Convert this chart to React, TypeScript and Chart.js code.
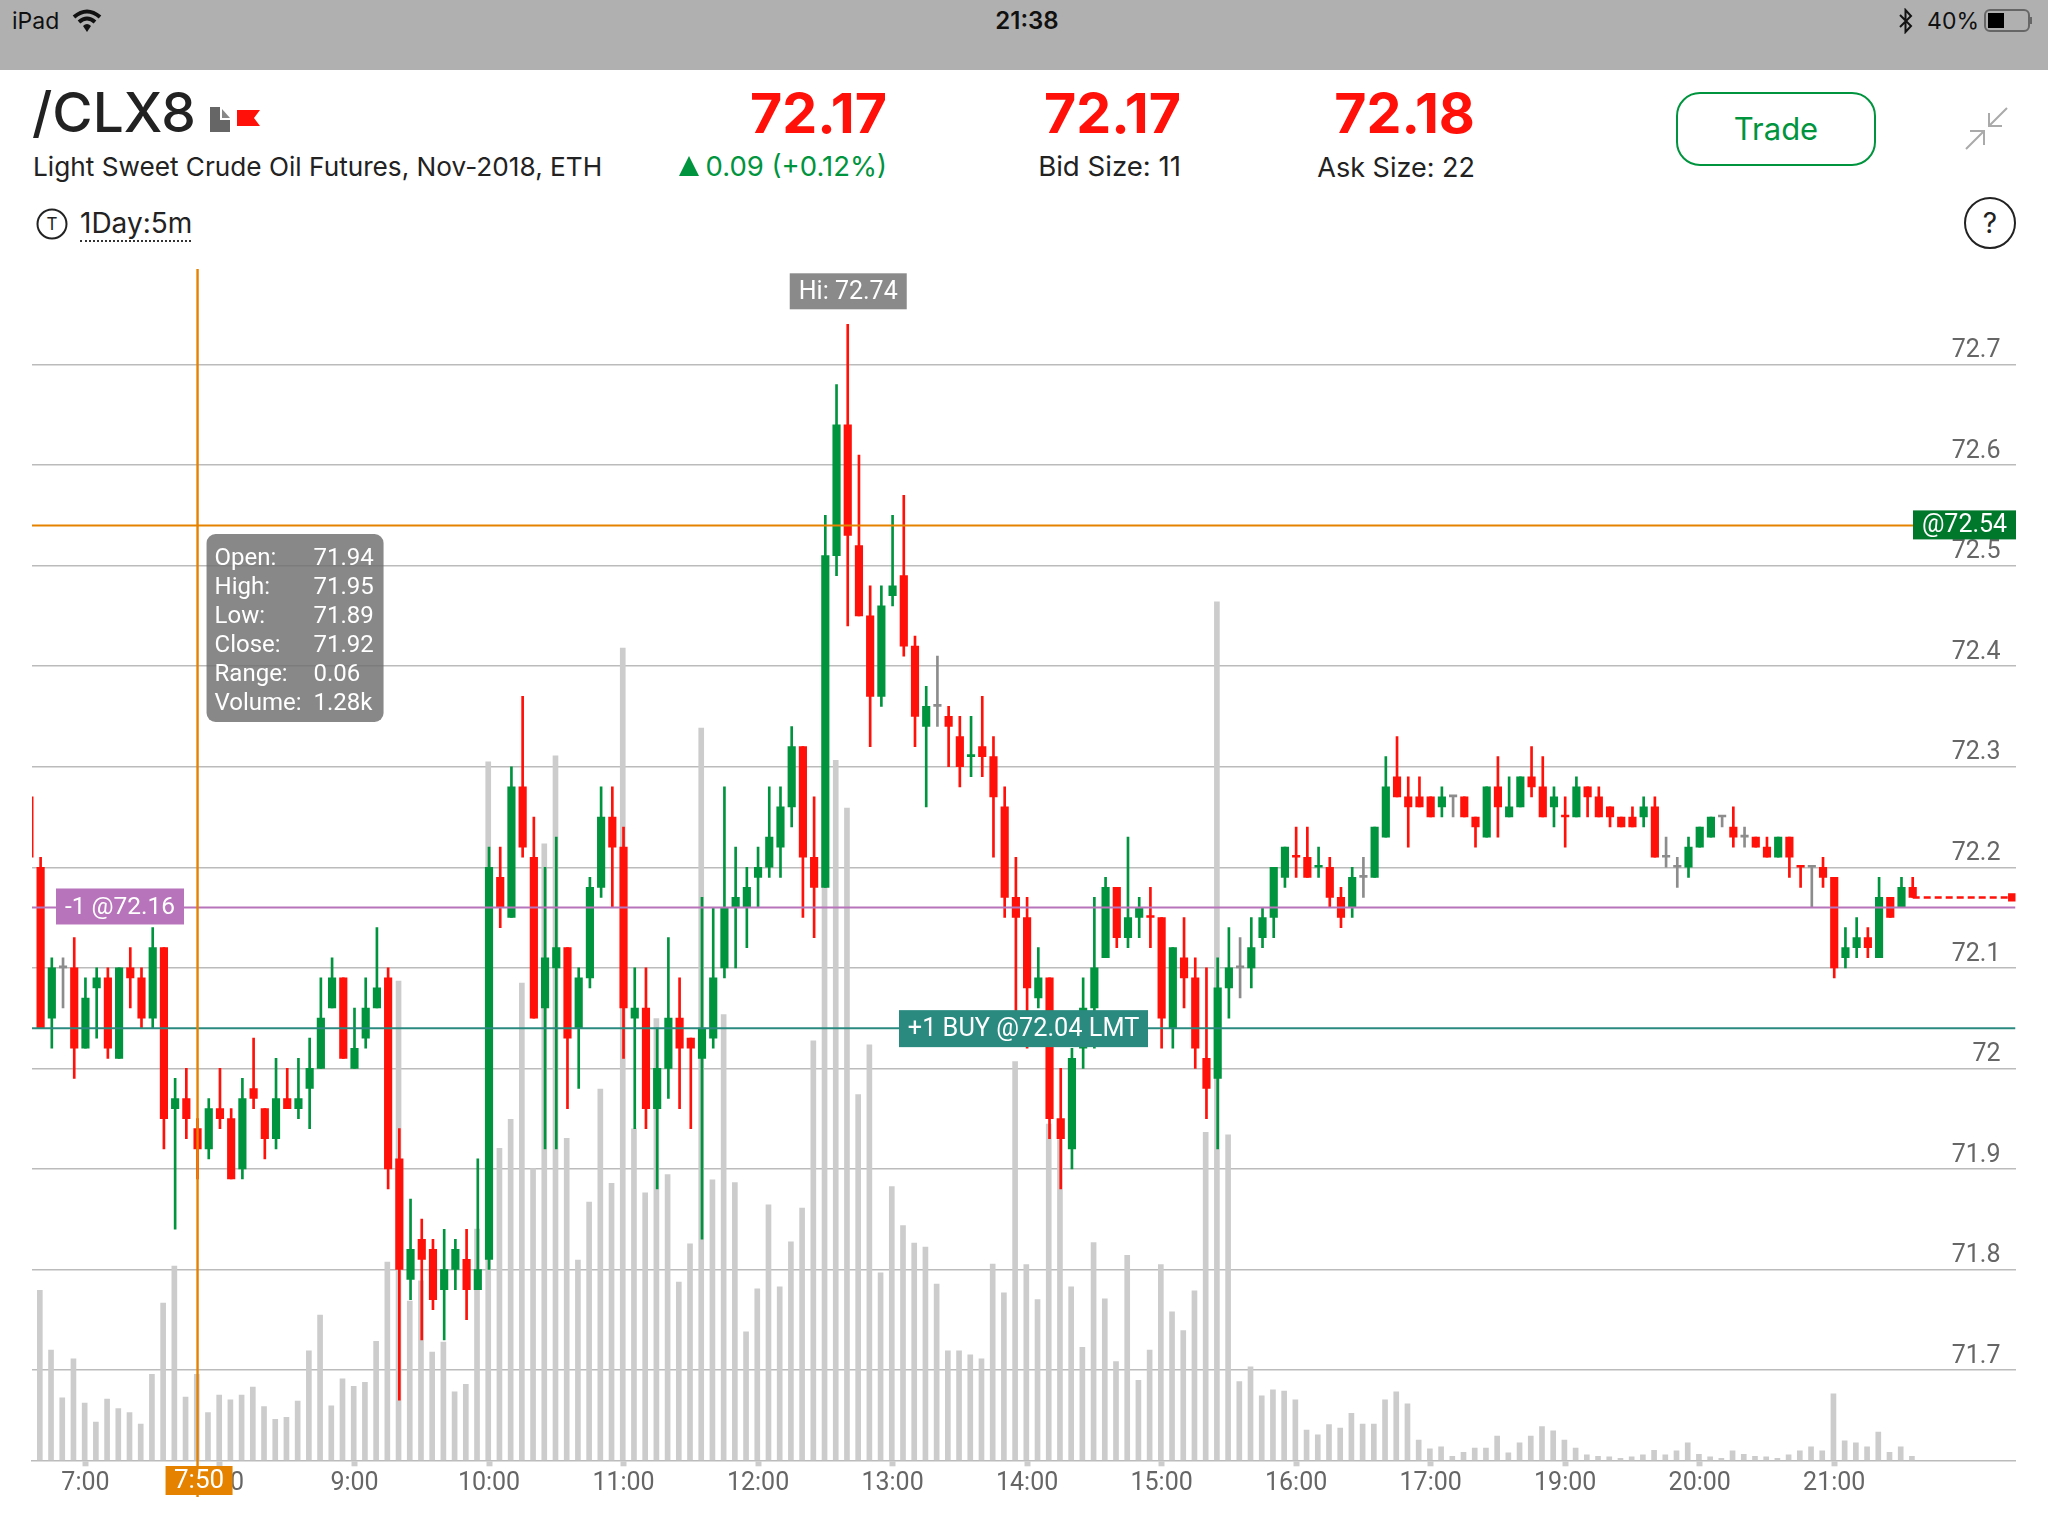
import React, { useEffect, useRef } from "react";
import { Chart, registerables } from "chart.js";

Chart.register(...registerables);

const openP = [72.27,72.20,72.05,72.10,72.10,72.02,72.08,72.09,72.01,72.10,72.09,72.05,72.12,71.96,71.97,71.94,71.92,71.96,71.95,71.90,71.98,71.96,71.93,71.97,71.96,71.98,72.00,72.06,72.09,72.00,72.03,72.06,72.09,71.91,71.79,71.83,71.82,71.78,71.80,71.81,71.78,71.81,72.19,72.15,72.28,72.21,72.06,72.10,72.12,72.04,72.09,72.18,72.25,72.22,72.05,72.06,71.96,72.00,72.05,72.03,72.01,72.03,72.10,72.16,72.16,72.19,72.20,72.22,72.26,72.32,72.21,72.18,72.51,72.64,72.52,72.45,72.37,72.47,72.49,72.42,72.34,72.36,72.35,72.33,72.31,72.32,72.31,72.26,72.17,72.15,72.07,72.09,71.95,71.92,72.02,72.06,72.11,72.18,72.13,72.15,72.15,72.15,72.04,72.11,72.09,72.01,71.99,72.08,72.10,72.10,72.13,72.15,72.19,72.21,72.21,72.20,72.20,72.17,72.16,72.19,72.19,72.23,72.29,72.27,72.27,72.27,72.26,72.27,72.27,72.25,72.23,72.28,72.25,72.26,72.29,72.28,72.26,72.25,72.25,72.28,72.27,72.26,72.25,72.25,72.25,72.26,72.21,72.20,72.20,72.22,72.23,72.25,72.24,72.23,72.23,72.22,72.21,72.23,72.20,72.20,72.20,72.19,72.11,72.12,72.13,72.11,72.17,72.16,72.18];
const highP = [72.27,72.21,72.11,72.11,72.13,72.09,72.10,72.10,72.10,72.12,72.10,72.14,72.12,71.99,72.00,71.95,71.97,72.00,71.96,71.99,72.03,71.96,72.01,72.00,72.01,72.03,72.09,72.11,72.09,72.06,72.09,72.14,72.10,71.94,71.87,71.85,71.83,71.84,71.83,71.84,71.91,72.22,72.22,72.30,72.37,72.25,72.20,72.23,72.12,72.10,72.19,72.28,72.28,72.24,72.10,72.10,72.04,72.13,72.09,72.03,72.17,72.16,72.28,72.22,72.20,72.22,72.28,72.28,72.34,72.32,72.27,72.55,72.68,72.74,72.61,72.48,72.48,72.55,72.57,72.43,72.38,72.41,72.36,72.35,72.35,72.37,72.33,72.28,72.21,72.17,72.12,72.09,72.00,72.02,72.09,72.17,72.19,72.18,72.23,72.17,72.18,72.15,72.12,72.15,72.11,72.10,72.11,72.14,72.13,72.15,72.16,72.20,72.22,72.24,72.24,72.22,72.21,72.18,72.20,72.21,72.24,72.31,72.33,72.29,72.29,72.27,72.28,72.27,72.27,72.25,72.28,72.31,72.29,72.29,72.32,72.31,72.28,72.27,72.29,72.28,72.28,72.26,72.25,72.26,72.27,72.27,72.23,72.21,72.23,72.24,72.25,72.25,72.26,72.24,72.23,72.23,72.23,72.23,72.20,72.20,72.21,72.19,72.14,72.15,72.14,72.19,72.17,72.19,72.19];
const lowP = [72.21,72.04,72.02,72.06,71.99,72.02,72.03,72.01,72.01,72.06,72.04,72.04,71.92,71.84,71.93,71.89,71.91,71.94,71.89,71.89,71.96,71.91,71.92,71.96,71.95,71.94,72.00,72.06,72.01,72.00,72.02,72.06,71.88,71.67,71.77,71.73,71.76,71.73,71.78,71.75,71.78,71.80,72.14,72.15,72.21,72.05,71.92,71.92,71.96,71.98,72.08,72.17,72.16,72.01,71.94,71.94,71.88,71.97,71.96,71.94,71.83,72.02,72.09,72.10,72.12,72.16,72.19,72.19,72.24,72.15,72.13,72.18,72.49,72.44,72.45,72.32,72.36,72.46,72.41,72.32,72.26,72.34,72.30,72.28,72.29,72.29,72.21,72.15,72.04,72.02,72.06,71.93,71.88,71.90,72.00,72.02,72.11,72.12,72.12,72.13,72.12,72.02,72.02,72.06,72.00,71.95,71.92,72.05,72.07,72.08,72.12,72.13,72.18,72.19,72.19,72.19,72.16,72.14,72.15,72.17,72.19,72.23,72.27,72.22,72.26,72.25,72.25,72.25,72.25,72.22,72.23,72.23,72.25,72.26,72.27,72.25,72.24,72.22,72.25,72.25,72.25,72.24,72.24,72.24,72.24,72.21,72.20,72.18,72.19,72.22,72.23,72.24,72.22,72.22,72.22,72.21,72.21,72.19,72.18,72.16,72.18,72.09,72.10,72.11,72.11,72.11,72.15,72.16,72.17];
const closeP = [72.21,72.04,72.10,72.10,72.02,72.07,72.09,72.02,72.10,72.09,72.05,72.12,71.95,71.97,71.95,71.92,71.96,71.95,71.89,71.97,71.97,71.93,71.97,71.96,71.97,72.00,72.05,72.09,72.01,72.02,72.06,72.08,71.90,71.80,71.82,71.81,71.77,71.80,71.82,71.78,71.80,72.20,72.16,72.28,72.22,72.05,72.11,72.12,72.03,72.09,72.18,72.25,72.22,72.06,72.06,71.96,72.00,72.05,72.02,72.02,72.04,72.09,72.16,72.17,72.18,72.20,72.23,72.26,72.32,72.21,72.18,72.51,72.64,72.53,72.45,72.37,72.46,72.48,72.42,72.35,72.36,72.36,72.34,72.30,72.31,72.31,72.27,72.17,72.15,72.08,72.09,71.95,71.93,72.01,72.06,72.10,72.18,72.13,72.15,72.16,72.15,72.05,72.12,72.09,72.02,71.98,72.08,72.10,72.10,72.12,72.15,72.20,72.22,72.21,72.19,72.20,72.17,72.15,72.19,72.19,72.24,72.28,72.27,72.26,72.26,72.25,72.27,72.27,72.25,72.24,72.28,72.26,72.26,72.29,72.28,72.25,72.27,72.25,72.28,72.27,72.25,72.25,72.24,72.24,72.26,72.21,72.21,72.20,72.22,72.24,72.25,72.25,72.23,72.23,72.22,72.21,72.23,72.21,72.20,72.20,72.19,72.10,72.12,72.13,72.12,72.17,72.15,72.18,72.17];
const volumeK = [0,2.53,1.64,0.93,1.51,0.85,0.57,0.91,0.77,0.71,0.54,1.28,2.34,2.89,0.94,1.28,0.71,0.97,0.90,0.97,1.09,0.80,0.61,0.64,0.88,1.63,2.16,0.81,1.21,1.10,1.16,1.77,2.95,7.13,2.37,2.67,1.61,1.76,1.02,1.13,3.44,10.39,4.64,5.07,7.10,4.34,9.17,10.48,4.79,2.98,3.84,5.52,4.12,12.08,4.93,3.98,6.57,4.25,2.65,3.22,10.89,4.17,6.63,4.13,1.91,2.55,3.80,2.58,3.25,3.75,6.24,8.60,10.41,9.70,5.44,6.18,2.79,4.07,3.49,3.23,3.17,2.62,1.63,1.63,1.57,1.51,2.92,2.49,5.93,2.91,2.39,5.00,4.77,2.58,1.68,3.24,2.40,1.47,3.05,1.19,1.64,2.91,2.21,1.93,2.52,4.88,12.77,4.84,1.17,1.39,0.96,1.05,1.03,0.90,0.45,0.38,0.53,0.48,0.70,0.54,0.54,0.90,1.02,0.84,0.30,0.17,0.20,0.06,0.12,0.18,0.18,0.36,0.11,0.26,0.36,0.50,0.44,0.30,0.18,0.08,0.06,0.05,0.03,0.05,0.08,0.15,0.08,0.14,0.26,0.09,0.05,0.03,0.14,0.09,0.06,0.05,0.03,0.08,0.14,0.20,0.14,0.99,0.29,0.26,0.20,0.42,0.12,0.20,0.06];

const greenDoji = [84, 115];
const redDoji = [100, 113, 137, 158];

const timeTickIndex = [5,17,29,41,53,65,77,89,101,113,125,137,149,161];
const timeTickLabels = ["7:00","8:00","9:00","10:00","11:00","12:00","13:00","14:00","15:00","16:00","17:00","19:00","20:00","21:00"];
const priceTicks = [71.7,71.8,71.9,72,72.1,72.2,72.3,72.4,72.5,72.6,72.7];

const crossIndex = 15;
const crossLabel = "7:50";
const crossPrice = 72.54;
const sellPrice = 72.16;
const buyPrice = 72.04;
const lastPrice = 72.17;
const lastIndex = 168;
const hiPrice = 72.74;

const tooltipRows = [
  ["Open:", "71.94"],
  ["High:", "71.95"],
  ["Low:", "71.89"],
  ["Close:", "71.92"],
  ["Range:", "0.06"],
  ["Volume:", "1.28k"],
];

const RED = "#ff1008";
const GREEN = "#00943e";
const GREY = "#8c8c8c";
const ORANGE = "#e58200";
const PURPLE = "#b874bb";
const TEAL = "#2a8a80";
const FONT = "Roboto";
const UI = "Inter";

const xMin = 0.232;
const xMax = 177.17;

function candleColor(i: number) {
  if (closeP[i] > openP[i]) return GREEN;
  if (closeP[i] < openP[i]) return RED;
  if (greenDoji.includes(i)) return GREEN;
  if (redDoji.includes(i)) return RED;
  return GREY;
}

function tag(ctx: any, x0: number, y0: number, x1: number, y1: number, bg: string, text: string, size = 24) {
  ctx.fillStyle = bg;
  ctx.fillRect(x0, y0, x1 - x0, y1 - y0);
  ctx.fillStyle = "#fff";
  ctx.font = `${size}px ${FONT}`;
  ctx.textAlign = "center";
  ctx.textBaseline = "middle";
  ctx.fillText(text, (x0 + x1) / 2, (y0 + y1) / 2 + 1);
}

const overlayPlugin = {
  id: "overlay",
  afterDraw(chart: any) {
    const { ctx, scales, chartArea } = chart;
    const xs = scales.x;
    const ys = scales.y;
    ctx.save();
    const cx = xs.getPixelForValue(crossIndex);
    ctx.strokeStyle = ORANGE;
    ctx.lineWidth = 2.4;
    ctx.beginPath();
    ctx.moveTo(cx, chartArea.top);
    ctx.lineTo(cx, 1497);
    ctx.stroke();

    tag(ctx, cx - 32, 1466, cx + 35, 1495, ORANGE, crossLabel, 26);
    const hy = ys.getPixelForValue(hiPrice);
    const hx = xs.getPixelForValue(73);
    tag(ctx, hx - 58, hy - 51, hx + 59, hy - 15, "#8a8a8a", `Hi: ${hiPrice}`, 25);
    const sy = ys.getPixelForValue(sellPrice);
    tag(ctx, 56, sy - 19, 184, sy + 17, PURPLE, `-1 @${sellPrice}`, 24.5);
    const by = ys.getPixelForValue(buyPrice);
    tag(ctx, 899, by - 18, 1148, by + 19, TEAL, `+1 BUY @${buyPrice} LMT`, 25.3);
    const oy = ys.getPixelForValue(crossPrice);
    tag(ctx, 1913, oy - 15, 2016, oy + 14, "#00782c", `@${crossPrice}`, 25);

    const bx = cx + 9;
    ctx.fillStyle = "rgba(110,110,110,0.82)";
    ctx.beginPath();
    ctx.roundRect(bx, 534, 177, 188, 9);
    ctx.fill();
    ctx.fillStyle = "#fff";
    ctx.font = `24px ${FONT}`;
    ctx.textAlign = "left";
    ctx.textBaseline = "alphabetic";
    tooltipRows.forEach((r, k) => {
      const y = 565 + k * 29;
      ctx.fillText(r[0], bx + 8, y);
      ctx.fillText(r[1], bx + 107, y);
    });
    ctx.restore();
  },
};

function T(p: { x: number; y: number; s: number; c?: string; w?: number; a?: "l" | "r" | "c"; f?: string; t: string; sp?: number }) {
  const tr = p.a === "r" ? "translate(-100%,-50%)" : p.a === "c" ? "translate(-50%,-50%)" : "translateY(-50%)";
  return (
    <span
      style={{
        position: "absolute",
        left: p.x,
        top: p.y,
        fontSize: p.s,
        color: p.c || "#222",
        fontWeight: p.w || 400,
        fontFamily: p.f || UI,
        whiteSpace: "nowrap",
        lineHeight: 1,
        letterSpacing: p.sp || 0,
        transform: tr,
      }}
    >
      {p.t}
    </span>
  );
}

export default function App() {
  const ref = useRef<HTMLCanvasElement>(null);
  useEffect(() => {
    const idx = openP.map((_, i) => i);
    const chart = new Chart(ref.current as HTMLCanvasElement, {
      type: "bar",
      data: {
        datasets: [
          {
            type: "line",
            data: [{ x: xMin, y: crossPrice }, { x: xMax, y: crossPrice }],
            borderColor: ORANGE, borderWidth: 2, pointRadius: 0, order: 1, yAxisID: "y",
          },
          {
            type: "line",
            data: [{ x: xMin, y: sellPrice }, { x: xMax, y: sellPrice }],
            borderColor: PURPLE, borderWidth: 2, pointRadius: 0, order: 1, yAxisID: "y",
          },
          {
            type: "line",
            data: [{ x: xMin, y: buyPrice }, { x: xMax, y: buyPrice }],
            borderColor: TEAL, borderWidth: 2, pointRadius: 0, order: 1, yAxisID: "y",
          },
          {
            type: "line",
            data: [{ x: lastIndex, y: lastPrice }, { x: xMax - 0.3, y: lastPrice }],
            borderColor: RED, borderWidth: 2.5, borderDash: [7, 4], order: 2, yAxisID: "y",
            pointRadius: [0, 4], pointStyle: "rect", pointBackgroundColor: RED, pointBorderColor: RED,
          },
          {
            data: idx.map((i) => ({ x: i, y: [Math.min(openP[i], closeP[i]), Math.max(openP[i], closeP[i])] })),
            backgroundColor: idx.map(candleColor),
            barThickness: 7.5, minBarLength: 2, grouped: false, order: 3, yAxisID: "y", borderSkipped: false,
          },
          {
            data: idx.map((i) => ({ x: i, y: [lowP[i], highP[i]] })),
            backgroundColor: idx.map(candleColor),
            barThickness: 2, grouped: false, order: 4, yAxisID: "y", borderSkipped: false,
          },
          {
            data: idx.map((i) => ({ x: i - 0.07, y: volumeK[i] })),
            backgroundColor: "#cccccc",
            barThickness: 5, grouped: false, order: 5, yAxisID: "vol",
          },
        ],
      } as any,
      options: {
        responsive: false,
        animation: false,
        devicePixelRatio: 1,
        events: [],
        layout: { padding: { left: 32, right: 32.5, top: 269, bottom: 0 } },
        plugins: { legend: { display: false }, tooltip: { enabled: false } },
        scales: {
          x: {
            type: "linear",
            min: xMin,
            max: xMax,
            offset: false,
            grid: { display: true, offset: false, drawOnChartArea: false, drawTicks: true, tickLength: 6, tickWidth: 6, tickColor: "#cccccc" },
            border: { display: true, color: "#bbbbbb", width: 1.5 },
            afterBuildTicks: (s: any) => { s.ticks = timeTickIndex.map((v) => ({ value: v })); },
            afterFit: (s: any) => { s.height = 75.7; },
            ticks: {
              autoSkip: false, maxRotation: 0, padding: 2, color: "#666666",
              font: { family: FONT, size: 25 },
              callback: (v: any) => timeTickLabels[timeTickIndex.indexOf(v)],
            },
          },
          y: {
            type: "linear",
            position: "right",
            min: 71.6102,
            max: 72.795,
            grid: { color: "#bbbbbb", lineWidth: 1.5, drawTicks: false },
            border: { display: false },
            afterBuildTicks: (s: any) => { s.ticks = priceTicks.map((v) => ({ value: v })); },
            afterFit: (s: any) => { s.width = 0; },
            ticks: {
              mirror: true, padding: -15, labelOffset: -13.5, color: "#666666",
              font: { family: FONT, size: 25 },
              callback: (v: any) => String(v),
            },
          },
          vol: { type: "linear", display: false, min: 0, max: 17.72 },
        },
      } as any,
      plugins: [overlayPlugin] as any,
    });
    return () => chart.destroy();
  }, []);

  return (
    <div style={{ position: "absolute", left: 0, top: 0, width: 2048, height: 1536, background: "#fff", overflow: "hidden" }}>
      <div style={{ position: "absolute", left: 0, top: 0, width: 2048, height: 70, background: "#b0b0b0" }} />
      <T x={12} y={21} s={23} t="iPad" c="#111" />
      <svg style={{ position: "absolute", left: 72, top: 8 }} width="30" height="26" viewBox="0 0 30 26">
        <path d="M2 9 Q15 -2 28 9 M7 14 Q15 7 23 14" fill="none" stroke="#111" strokeWidth="4" />
        <path d="M11 18 Q15 14 19 18 L15 24 Z" fill="#111" />
      </svg>
      <T x={1027} y={21} s={24} t="21:38" c="#111" w={600} a="c" />
      <svg style={{ position: "absolute", left: 1898, top: 8 }} width="16" height="26" viewBox="0 0 16 26">
        <path d="M2 7 L13 18 L7.5 24 V2 L13 8 L2 19" fill="none" stroke="#111" strokeWidth="2" />
      </svg>
      <T x={1979} y={21} s={23} t="40%" c="#111" a="r" />
      <svg style={{ position: "absolute", left: 1984, top: 8 }} width="48" height="26" viewBox="0 0 48 26">
        <rect x="1" y="2" width="44" height="21" rx="5" fill="none" stroke="#666" strokeWidth="2" />
        <rect x="4" y="5" width="16" height="15" fill="#000" />
        <rect x="46" y="9" width="2" height="7" fill="#666" />
      </svg>

      <T x={32} y={112} s={55} t="/CLX8" w={500} />
      <svg style={{ position: "absolute", left: 210, top: 106 }} width="52" height="28" viewBox="0 0 52 28">
        <path d="M0 1 H10 V14 H20 V26 H0 Z" fill="#666" />
        <path d="M12 3 L20 12 H12 Z" fill="#888" />
        <path d="M27 4 H50 L44 12 L50 20 H27 Z" fill="#ff1008" />
      </svg>
      <T x={33} y={167} s={26.2} t="Light Sweet Crude Oil Futures, Nov-2018, ETH" />
      <T x={887} y={113} s={55.5} t="72.17" c={RED} w={700} a="r" />
      <svg style={{ position: "absolute", left: 678, top: 156 }} width="22" height="21" viewBox="0 0 22 21">
        <path d="M11 0 L21 20 H1 Z" fill={GREEN} />
      </svg>
      <T x={887} y={167} s={27.5} t="0.09 (+0.12%)" c={GREEN} a="r" />
      <T x={1181} y={113} s={55.5} t="72.17" c={RED} w={700} a="r" />
      <T x={1181} y={167} s={27.6} t="Bid Size: 11" a="r" />
      <T x={1475} y={113} s={55.5} t="72.18" c={RED} w={700} a="r" />
      <T x={1475} y={167} s={27} t="Ask Size: 22" a="r" />
      <div style={{ position: "absolute", left: 1676, top: 92, width: 196, height: 70, border: `2px solid ${GREEN}`, borderRadius: 24 }} />
      <T x={1776} y={128} s={31} t="Trade" c={GREEN} a="c" />
      <svg style={{ position: "absolute", left: 1964, top: 107 }} width="44" height="44" viewBox="0 0 44 44">
        <path d="M43 1 L25 19 M25 6 V19 H38 M2 42 L20 24 M20 38 V24 H6" fill="none" stroke="#aaa" strokeWidth="2" />
      </svg>
      <svg style={{ position: "absolute", left: 1963, top: 197 }} width="54" height="52" viewBox="0 0 54 52">
        <circle cx="27" cy="26" r="25" fill="none" stroke="#222" strokeWidth="2" />
      </svg>
      <T x={1990} y={223} s={28} t="?" a="c" />
      <svg style={{ position: "absolute", left: 36, top: 208 }} width="32" height="32" viewBox="0 0 32 32">
        <circle cx="16" cy="16" r="14.5" fill="none" stroke="#222" strokeWidth="2" />
      </svg>
      <T x={52} y={224} s={17} t="T" a="c" />
      <T x={80} y={223} s={28} t="1Day:5m" />
      <div style={{ position: "absolute", left: 80, top: 240, width: 111, borderTop: "2px dotted #333" }} />

      <canvas ref={ref} width={2048} height={1536} style={{ position: "absolute", left: 0, top: 0, width: 2048, height: 1536 }} />
    </div>
  );
}
